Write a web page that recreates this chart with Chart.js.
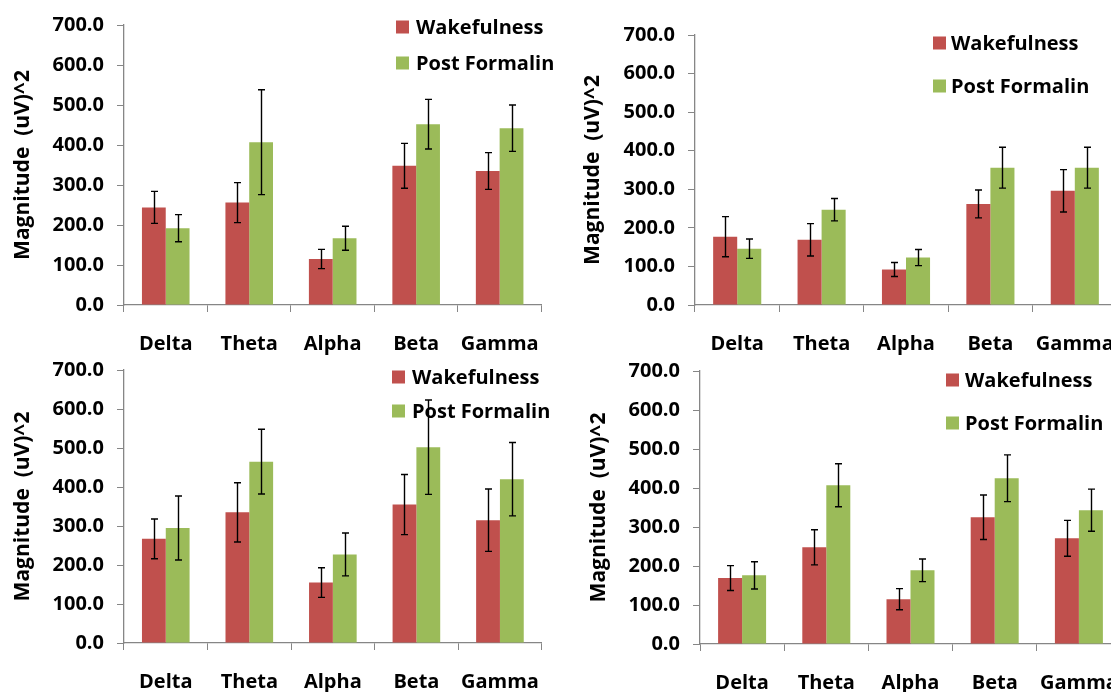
<!DOCTYPE html>
<html>
<head>
<meta charset="utf-8">
<script src="https://cdn.jsdelivr.net/npm/chart.js@4.4.1/dist/chart.umd.min.js"></script>
<style>
  html, body { margin: 0; padding: 0; background: #fff; width: 1111px; height: 692px; overflow: hidden; position: relative; }
  canvas { position: absolute; }
</style>
</head>
<body>
<canvas id="panelA" width="560" height="360" style="left:0;top:0"></canvas>
<canvas id="panelB" width="580" height="360" style="left:560px;top:0"></canvas>
<canvas id="panelC" width="560" height="347" style="left:0;top:345px"></canvas>
<canvas id="panelD" width="580" height="347" style="left:560px;top:345px"></canvas>
<script>
// EEG band power, wakefulness vs. post formalin (mean +/- error)
const bands = ["Delta", "Theta", "Alpha", "Beta", "Gamma"];
const seriesNames = ["Wakefulness", "Post Formalin"];
const yTicks = [0, 100, 200, 300, 400, 500, 600, 700];

const wakeA = [244, 256, 115, 348, 335];
const wakeErrA = [40, 50, 24, 56, 46];
const postA = [192, 407, 167, 452, 442];
const postErrA = [34, 131, 30, 62, 58];

const wakeB = [177, 169, 92, 262, 296];
const wakeErrB = [52, 42, 18, 36, 55];
const postB = [146, 247, 123, 356, 356];
const postErrB = [25, 29, 21, 53, 53];

const wakeC = [267, 335, 155, 355, 315];
const wakeErrC = [51, 76, 38, 77, 80];
const postC = [295, 465, 227, 502, 420];
const postErrC = [82, 83, 55, 121, 94];

const wakeD = [169, 248, 115, 325, 271];
const wakeErrD = [32, 45, 27, 57, 46];
const postD = [176, 407, 189, 425, 343];
const postErrD = [35, 55, 29, 60, 54];

const RED = "#C0504D";
const GREEN = "#9BBB59";
const AXIS = "#868686";
const FONT = "'Open Sans', 'DejaVu Sans', sans-serif";

Chart.defaults.font.family = FONT;
Chart.defaults.color = "#000";

// whiskers drawn on top of each bar from the dataset's "errors" array
const errorBars = {
  id: "errorBars",
  afterDatasetsDraw(chart) {
    const ctx = chart.ctx;
    const y = chart.scales.y;
    chart.data.datasets.forEach((ds, di) => {
      chart.getDatasetMeta(di).data.forEach((bar, i) => {
        const top = y.getPixelForValue(ds.data[i] + ds.errors[i]);
        const bot = y.getPixelForValue(ds.data[i] - ds.errors[i]);
        const x = Math.round(bar.x) + 0.5;
        ctx.save();
        ctx.strokeStyle = "#000";
        ctx.lineWidth = 1.4;
        ctx.beginPath();
        ctx.moveTo(x, top); ctx.lineTo(x, bot);
        ctx.moveTo(x - 3.5, top); ctx.lineTo(x + 3.5, top);
        ctx.moveTo(x - 3.5, bot); ctx.lineTo(x + 3.5, bot);
        ctx.stroke();
        ctx.restore();
      });
    });
  }
};

// Excel-style legend: square swatch + bold label, stacked
const boxLegend = {
  id: "boxLegend",
  afterDatasetsDraw(chart, args, opts) {
    const ctx = chart.ctx;
    ctx.save();
    ctx.font = "bold 20px " + FONT;
    ctx.textBaseline = "middle";
    chart.data.datasets.forEach((ds, i) => {
      const cy = opts.rows[i];
      ctx.fillStyle = ds.backgroundColor;
      ctx.fillRect(opts.x, cy - 6.5, 13, 13);
      ctx.fillStyle = "#000";
      ctx.fillText(ds.label, opts.textX, cy + 1);
    });
    ctx.restore();
  }
};

function makePanel(id, wake, wakeErr, post, postErr, lay) {
  return new Chart(document.getElementById(id).getContext("2d"), {
    type: "bar",
    data: {
      labels: bands,
      datasets: [
        { label: seriesNames[0], data: wake, errors: wakeErr, backgroundColor: RED },
        { label: seriesNames[1], data: post, errors: postErr, backgroundColor: GREEN },
      ],
    },
    options: {
      responsive: false,
      animation: false,
      categoryPercentage: 0.57,
      barPercentage: 1.0,
      layout: { padding: { left: 0, top: lay.top, right: lay.right, bottom: 0 } },
      plugins: {
        legend: { display: false },
        tooltip: { enabled: false },
        boxLegend: lay.legend,
      },
      scales: {
        x: {
          offset: true,
          afterFit: (s) => { s.height = lay.xHeight; },
          grid: { offset: true, drawOnChartArea: false, tickLength: 7, color: AXIS },
          border: { color: AXIS, width: 1.3 },
          ticks: { font: { size: 20, weight: "bold" }, padding: 20, maxRotation: 0, autoSkip: false },
        },
        y: {
          min: yTicks[0],
          max: yTicks[yTicks.length - 1],
          afterFit: (s) => { s.width = lay.yWidth; },
          afterBuildTicks: (s) => { s.ticks = yTicks.map((v) => ({ value: v })); },
          grid: { drawOnChartArea: false, tickLength: 7, color: AXIS },
          border: { color: AXIS, width: 1.3 },
          ticks: {
            font: { size: 20, weight: "bold" },
            padding: 13,
            callback: (v) => Number(v).toFixed(1),
          },
          title: {
            display: true,
            text: "Magnitude  (uV)^2",
            font: { size: 21, weight: "bold" },
            padding: { top: lay.titlePad, bottom: 0 },
          },
        },
      },
    },
    plugins: [errorBars, boxLegend],
  });
}

makePanel("panelA", wakeA, wakeErrA, postA, postErrA, {
  top: 23, right: 14, xHeight: 55, yWidth: 124, titlePad: 10,
  legend: { x: 396, textX: 416, rows: [27, 63] },
});
makePanel("panelB", wakeB, wakeErrB, postB, postErrB, {
  top: 35, right: 23, xHeight: 55, yWidth: 135, titlePad: 20,
  legend: { x: 373, textX: 391, rows: [43, 86] },
});
makePanel("panelC", wakeC, wakeErrC, postC, postErrC, {
  top: 18, right: 11, xHeight: 49, yWidth: 124, titlePad: 10,
  legend: { x: 392, textX: 412, rows: [32, 66] },
});
makePanel("panelD", wakeD, wakeErrD, postD, postErrD, {
  top: 26, right: 19, xHeight: 48, yWidth: 140, titlePad: 26,
  legend: { x: 386, textX: 405, rows: [35, 78] },
});
</script>
</body>
</html>
